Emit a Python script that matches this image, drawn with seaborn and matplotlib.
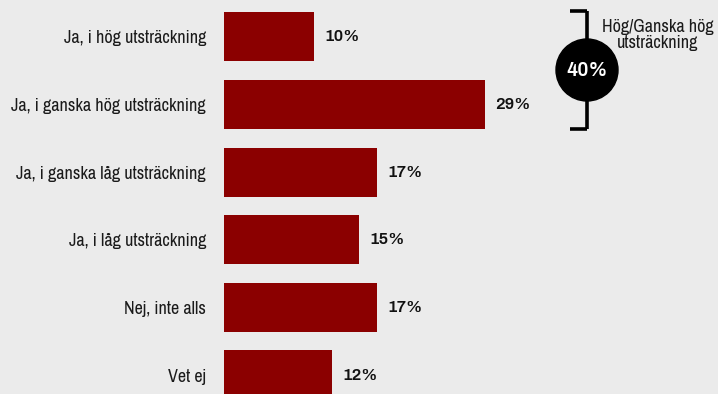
import matplotlib
matplotlib.use("Agg")
import matplotlib.pyplot as plt
import seaborn as sns
import pandas as pd
from matplotlib.patches import Circle
from matplotlib.lines import Line2D

categories = [
    "Ja, i hög utsträckning",
    "Ja, i ganska hög utsträckning",
    "Ja, i ganska låg utsträckning",
    "Ja, i låg utsträckning",
    "Nej, inte alls",
    "Vet ej",
]
values = [10, 29, 17, 15, 17, 12]
summary_value = 40
summary_label = "Hög/Ganska hög\nutsträckning"

BG = "#ebebeb"
BAR = "#8b0000"
TXT = "#1a1a1a"

sns.set_theme(style="white")
plt.rcParams["font.family"] = ["Archivo Narrow", "DejaVu Sans"]

df = pd.DataFrame({"kategori": categories, "andel": values})

W, H = 718, 394
fig = plt.figure(figsize=(W / 100, H / 100), dpi=100, facecolor=BG)
ax = fig.add_axes([224 / W, 0, 1 - 224 / W, 1])
ax.set_facecolor(BG)

sns.barplot(data=df, x="andel", y="kategori", orient="h", color=BAR,
            saturation=1, width=0.725, linewidth=0, ax=ax)

# 9 px per percentage point
ax.set_xlim(0, (W - 224) / 9)
ax.set_ylim(5.281, -0.547)
for s in ax.spines.values():
    s.set_visible(False)
ax.set_xticks([])
ax.set_xlabel("")
ax.set_ylabel("")
ax.tick_params(axis="y", length=0, pad=13, labelsize=13, labelcolor=TXT)

for i, v in enumerate(values):
    ax.text(v + 1.15, i, f"{v}%", va="center", ha="left",
            fontsize=12, fontweight=800, color="#111111",
            family=["Archivo", "DejaVu Sans"])


def fx(px):
    return px / W


def fy(py):
    return 1 - py / H


# bracket grouping the two top answers
lw = 2.6
for xs, ys in [([587, 587], [11, 129]), ([570, 587], [11, 11]), ([570, 587], [129, 129])]:
    fig.add_artist(Line2D([fx(x) for x in xs], [fy(y) for y in ys], color="black",
                          lw=lw, solid_capstyle="butt", transform=fig.transFigure))

circ = Circle((5.87, (H - 70) / 100), 0.31, color="black",
              transform=fig.dpi_scale_trans)
fig.add_artist(circ)

fig.text(fx(587), fy(71), f"{summary_value}%", ha="center", va="center",
         color="white", fontsize=14, fontweight=800,
         family=["Archivo", "DejaVu Sans"])
fig.text(fx(658), fy(35), summary_label, ha="center", va="center",
         fontsize=13, color=TXT, linespacing=1.0)

fig.savefig("out.png", dpi=100, facecolor=BG)
